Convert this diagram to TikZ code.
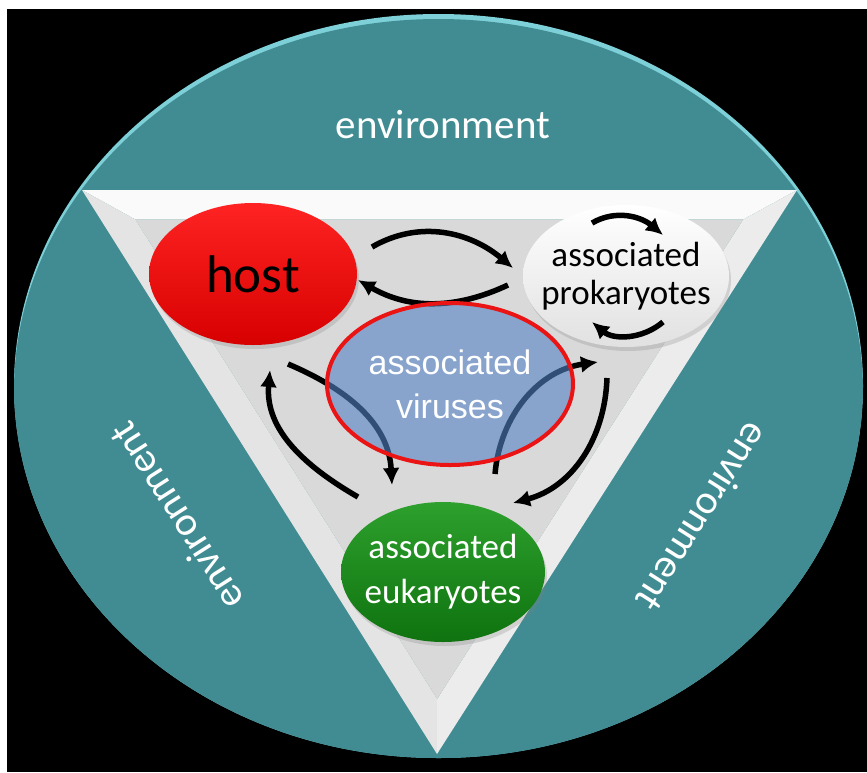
\documentclass[tikz,border=0pt]{standalone}
\usepackage{fontspec}
\setmainfont{Carlito}
\newfontfamily\arialfont{Liberation Sans}
\usetikzlibrary{calc,shapes.geometric,arrows.meta,shadows}

\definecolor{envteal}{RGB}{64,140,146}
\definecolor{envrim}{RGB}{125,208,215}
\definecolor{facetop}{RGB}{250,250,250}
\definecolor{faceleft}{RGB}{228,228,228}
\definecolor{faceright}{RGB}{236,236,236}
\definecolor{facemid}{RGB}{217,217,217}
\definecolor{hosttop}{RGB}{255,35,35}
\definecolor{hostbot}{RGB}{215,0,0}
\definecolor{prokbot}{RGB}{225,225,225}
\definecolor{virblue}{RGB}{82,130,197}
\definecolor{virring}{RGB}{235,20,20}
\definecolor{euktop}{RGB}{45,160,45}
\definecolor{eukbot}{RGB}{15,115,15}

\begin{document}
\begin{tikzpicture}[x=1pt,y=1pt,
org/.style={ellipse, inner sep=0pt, drop shadow={opacity=0.25, shadow xshift=2pt, shadow yshift=-4pt}},
orgtext/.style={align=center, inner sep=0pt},
link/.style={line width=5.5pt, -{Latex[length=17pt,width=17pt]}},
envtext/.style={text=white, inner sep=0pt, font=\fontsize{41}{49}\selectfont}
]
\useasboundingbox (0,0) rectangle (867,-772);
\fill[white] (0,0) rectangle (867,-772);
\fill[black] (7,-9) rectangle (867,-772);

% environment disc
\coordinate (hub) at (438.5,-386);
\fill[envrim] (hub) ellipse [x radius=424.5, y radius=372];
\begin{scope}
\clip (hub) ellipse [x radius=424.5, y radius=372];
\fill[envteal] ($(hub)+(0,-5)$) ellipse [x radius=424.5, y radius=372];
\end{scope}

% bevelled triangle
\coordinate (tl) at (82,-190);
\coordinate (tr) at (797,-190);
\coordinate (bt) at (437,-754);
\coordinate (mid) at (438.2,-386.7);
\coordinate (itl) at ($(mid)!0.85!(tl)$);
\coordinate (itr) at ($(mid)!0.85!(tr)$);
\coordinate (ibt) at ($(mid)!0.85!(bt)$);
\fill[facetop] (tl) -- (tr) -- (itr) -- (itl) -- cycle;
\fill[faceleft] (tl) -- (itl) -- (ibt) -- (bt) -- cycle;
\fill[faceright] (tr) -- (bt) -- (ibt) -- (itr) -- cycle;
\fill[facemid] (itl) -- (itr) -- (ibt) -- cycle;

\node[envtext] (envtop) at (443,-125) {environment};
\node[envtext, rotate=122.5] (envleft) at (176,-517) {environment};
\node[envtext, rotate=-122.5] (envright) at (703,-517) {environment};

% organisms
\node[org, minimum width=208pt, minimum height=142pt, top color=hosttop, bottom color=hostbot] (host) at (253,-274) {};
\node[org, minimum width=206pt, minimum height=142pt, top color=white, bottom color=prokbot] (prok) at (626,-276) {};
\node[org, minimum width=204pt, minimum height=140pt, top color=euktop, bottom color=eukbot] (euk) at (443,-572) {};
\node[orgtext, font=\fontsize{53}{60}\selectfont] (hostname) at (host) {host};
\node[orgtext, font=\fontsize{35}{38}\selectfont] (prokname) at (prok) {associated\\prokaryotes};
\node[orgtext, text=white, font=\fontsize{35}{45}\selectfont] (eukname) at (euk) {associated\\eukaryotes};

% exchanges
\draw[link] ($(host)+(119,27)$) to[out=30,in=140] ($(prok)+(-113,8)$);
\draw[link] ($(prok)+(-118,-9)$) to[out=205,in=-30] ($(host)+(105,-6)$);
\draw[link] ($(prok)+(-34,53)$) to[out=30,in=140] ($(prok)+(37,41)$);
\draw[link] ($(prok)+(37,-46)$) to[out=-140,in=-40] ($(prok)+(-34,-46)$);
\draw[link] ($(euk)+(-85,75)$) to[out=150,in=-95] ($(host)+(17,-96)$);
\draw[link] ($(host)+(35,-90)$) to[out=-23,in=93] ($(euk)+(-51,87)$);
\draw[link] ($(euk)+(52,98)$) to[out=85,in=188] ($(prok)+(-28,-86)$);
\draw[link] ($(prok)+(-19,-102)$) to[out=-92,in=15] ($(euk)+(70,69)$);

% viruses on top, see-through
\node[ellipse, inner sep=0pt, minimum width=246pt, minimum height=162pt, fill=virblue, fill opacity=0.6, draw=virring, line width=4pt] (vir) at (450,-384) {};
\node[orgtext, text=white, font=\arialfont\fontsize{34}{44}\selectfont] (virname) at (vir) {associated\\viruses};
\end{tikzpicture}
\end{document}
